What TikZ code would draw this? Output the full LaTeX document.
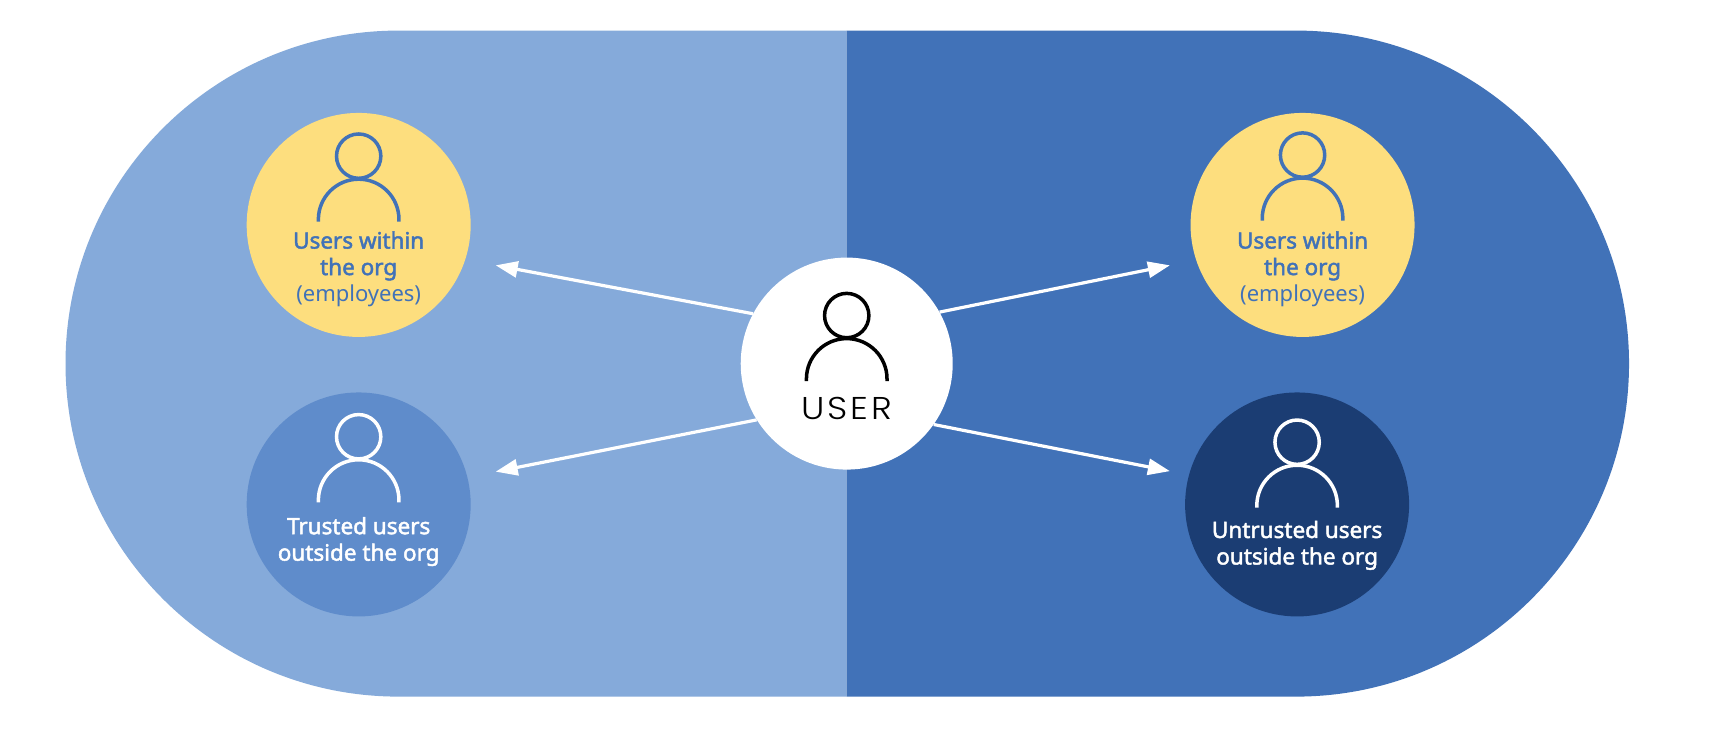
\documentclass[tikz,border=0pt]{standalone}
\usepackage{fontspec}
\setmainfont{Noto Sans}
\newfontfamily\boldcap[FakeBold=2]{Noto Sans}
\newfontfamily\userfont[LetterSpace=10,FakeStretch=1.12]{Poppins Light}
\usetikzlibrary{arrows.meta}
\definecolor{bandlight}{HTML}{85AADA}
\definecolor{banddark}{HTML}{4172B8}
\definecolor{yellowfill}{HTML}{FDDE7E}
\definecolor{midfill}{HTML}{5F8CCB}
\definecolor{navyfill}{HTML}{1B3D73}
\tikzset{
  x=1.0918pt,y=1.0918pt,
  disc/.style={circle,inner sep=0pt,minimum size=224pt,fill=#1},
  caption/.style={align=center,font=\fontsize{22.5}{26.5}\selectfont\boldcap,text=#1},
  link/.style={draw=white,line width=3.2pt,-{Triangle[length=22pt,width=16pt]}},
  pics/person/.style={code={
    \draw[line width=3.5pt] (0,0) circle (20.3);
    \draw[line width=3.5pt] (-36.9,-60) -- (-36.9,-58) arc (180:0:36.9) -- (36.9,-60);
  }}
}
\begin{document}
\begin{tikzpicture}
\useasboundingbox (0,0) rectangle (1568,-692.4);
\fill[white] (0,0) rectangle (1568,-692.4);
\fill[bandlight] (775.5,-28) -- (365,-28) arc (90:270:305) -- (775.5,-638) -- cycle;
\fill[banddark] (775.5,-28) -- (1187,-28) arc (90:-90:305) -- (775.5,-638) -- cycle;
\node[disc=yellowfill] (tl) at (328.5,-206) {};
\node[disc=midfill] (bl) at (328.5,-462) {};
\node[disc=yellowfill] (tr) at (1193,-206) {};
\node[disc=navyfill] (br) at (1188,-462) {};
\node[disc=white,minimum size=212pt] (user) at (775.5,-333) {};
\coordinate (tlend) at (454,-243);
\coordinate (blend) at (454,-432);
\coordinate (trend) at (1071.5,-243);
\coordinate (brend) at (1071.5,-431.5);
\draw[link] (user.152.6) -- (tlend);
\draw[link] (user.212.7) -- (blend);
\draw[link] (user.29.5) -- (trend);
\draw[link] (user.-35) -- (brend);
\pic[color=banddark] at (328.5,-143) {person};
\pic[color=white] at (328.5,-400) {person};
\pic[color=banddark] at (1193,-142) {person};
\pic[color=white] at (1188,-405) {person};
\pic[color=black] at (775.5,-289) {person};
\node[caption=banddark] (tltext) at (328.5,-246.5) {Users within\\the org\\{\normalfont\fontsize{22}{26.5}\selectfont (employees)}};
\node[caption=white] (bltext) at (328.5,-496) {Trusted users\\outside the org};
\node[caption=banddark] (trtext) at (1193,-246.5) {Users within\\the org\\{\normalfont\fontsize{22}{26.5}\selectfont (employees)}};
\node[caption=white] (brtext) at (1188,-499.5) {Untrusted users\\outside the org};
\node[text=black,font=\userfont\fontsize{31.5}{34}\selectfont] (usertext) at (775.5,-374) {USER};
\end{tikzpicture}
\end{document}
